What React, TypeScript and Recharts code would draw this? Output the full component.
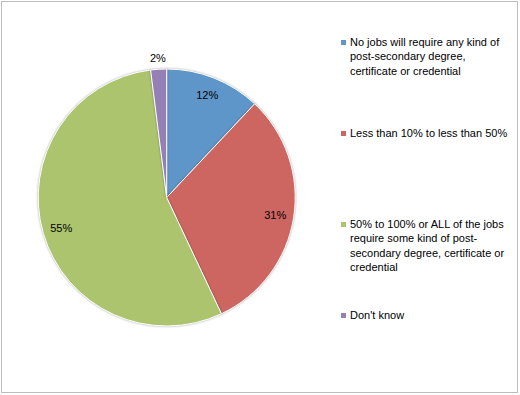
import { PieChart, Pie, Cell, Legend } from "recharts";

const categories = [
  "No jobs will require any kind of post-secondary degree, certificate or credential",
  "Less than 10% to less than 50%",
  "50% to 100% or ALL of the jobs require some kind of post-secondary degree, certificate or credential",
  "Don't know",
];
const shares = [12, 31, 55, 2];
const colors = ["#5f96c9", "#cd6661", "#adc46e", "#9580b5"];

const data = categories.map((name, i) => ({ name, value: shares[i] }));

const FONT = "'Liberation Sans', Arial, sans-serif";
const RAD = Math.PI / 180;

const renderLabel = (props: any) => {
  const { cx, cy, midAngle, outerRadius, value } = props;
  // tiny slices get their label just outside the rim
  const r = value < 5 ? outerRadius + 11 : outerRadius * 0.855;
  const x = cx + r * Math.cos(-midAngle * RAD);
  const y = cy + r * Math.sin(-midAngle * RAD);
  return (
    <text x={x} y={y} textAnchor="middle" dominantBaseline="central" fontSize={11} fontFamily={FONT} fill="#000">
      {value}%
    </text>
  );
};

const LegendList = () => (
  <div style={{ fontFamily: FONT, fontSize: 11, color: "#000", lineHeight: "14.5px" }}>
    {data.map((d, i) => (
      <div key={d.name} style={{ display: "flex", height: 91 }}>
        <span style={{ width: 5, height: 5, background: colors[i], marginTop: 5, marginRight: 4, flex: "none" }} />
        <span style={{ width: 160 }}>{d.name}</span>
      </div>
    ))}
  </div>
);

export default function App() {
  return (
    <div style={{ position: "absolute", left: 0, top: 0, width: 520, height: 395, background: "#fff" }}>
      <PieChart width={520} height={395} margin={{ top: 0, right: 0, bottom: 0, left: 0 }}>
        <Pie
          data={data}
          dataKey="value"
          nameKey="name"
          cx={166.7}
          cy={197.5}
          outerRadius={128.5}
          startAngle={90}
          endAngle={-270}
          stroke="#fff"
          strokeWidth={1}
          label={renderLabel}
          labelLine={false}
          isAnimationActive={false}
          style={{ filter: "drop-shadow(0 0 1px rgba(0,0,0,0.35))" }}
        >
          {data.map((d, i) => (
            <Cell key={d.name} fill={colors[i]} />
          ))}
        </Pie>
        <Legend
          layout="vertical"
          align="right"
          verticalAlign="top"
          content={<LegendList />}
          wrapperStyle={{ position: "absolute", left: 341, top: 34.5, width: 175 }}
        />
      </PieChart>
      <div
        style={{
          position: "absolute",
          left: 1,
          top: 1,
          width: 517,
          height: 392,
          border: "1px solid #bdbdbd",
          boxSizing: "border-box",
          pointerEvents: "none",
        }}
      />
    </div>
  );
}
